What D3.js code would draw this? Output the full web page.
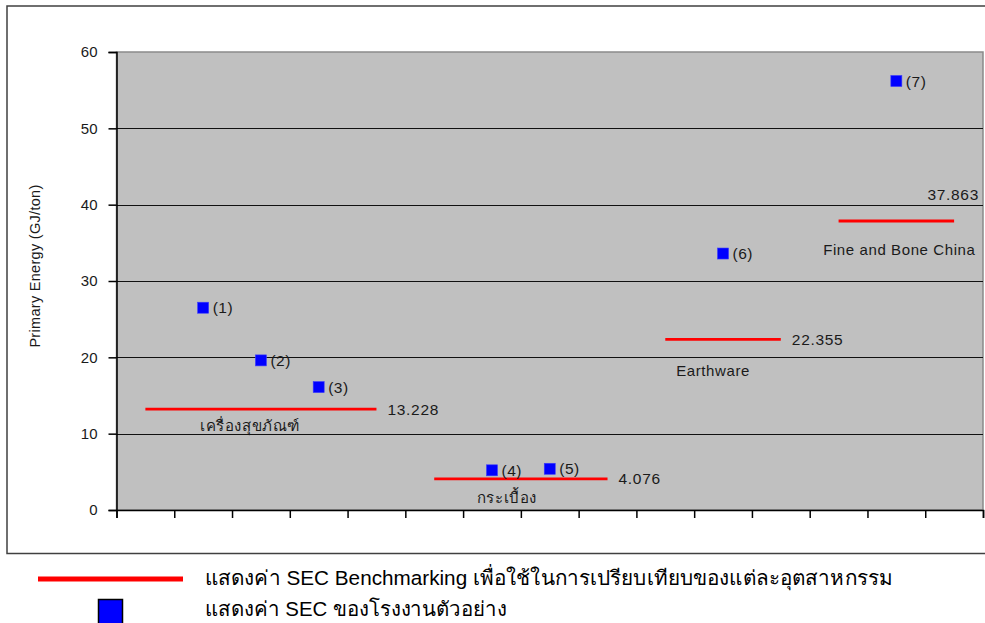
<!DOCTYPE html>
<html>
<head>
<meta charset="utf-8">
<script src="https://cdn.jsdelivr.net/npm/d3@7"></script>
<style>
  html, body { margin: 0; padding: 0; background: #ffffff; }
  svg { display: block; }
  text { font-family: "Liberation Sans", Arial, "Noto Sans", sans-serif; }
</style>
</head>
<body>
<svg id="chart" width="985" height="623"></svg>
<script>
// Benchmark SEC per industry (horizontal red segments)
const categories = ["เครื่องสุขภัณฑ์", "กระเบื้อง", "Earthware", "Fine and Bone China"];
const benchmarkValues = [13.228, 4.076, 22.355, 37.863];
const benchmarkStart = [0.5, 5.5, 9.5, 12.5];
const benchmarkEnd = [4.5, 8.5, 11.5, 14.5];

// SEC of the sample plants (blue squares)
const plantLabels = ["(1)", "(2)", "(3)", "(4)", "(5)", "(6)", "(7)"];
const plantX = [1.5, 2.5, 3.5, 6.5, 7.5, 10.5, 13.5];
const plantValues = [26.5, 19.6, 16.1, 5.2, 5.4, 33.6, 56.2];

// Axis ticks
const yTicks = [0, 10, 20, 30, 40, 50, 60];
const xTicks = d3.range(0, 16);
const yTitle = "Primary Energy (GJ/ton)";

const legendLabels = [
  "แสดงค่า SEC Benchmarking เพื่อใช้ในการเปรียบเทียบของแต่ละอุตสาหกรรม",
  "แสดงค่า SEC ของโรงงานตัวอย่าง"
];

const svg = d3.select("#chart");

// Plot frame
const plot = { left: 116.5, right: 983, top: 52, bottom: 510 };
const x = d3.scaleLinear().domain([0, 15]).range([plot.left, plot.right]);
const y = d3.scaleLinear().domain([0, 60]).range([plot.bottom, plot.top]);

const textColor = "#1a1a1a";

// Outer chart border
svg.append("rect")
  .attr("x", 7).attr("y", 6)
  .attr("width", 990).attr("height", 547.5)
  .attr("fill", "#ffffff")
  .attr("stroke", "#404040").attr("stroke-width", 1.5);

// Plot area background
svg.append("rect")
  .attr("x", plot.left).attr("y", plot.top)
  .attr("width", plot.right - plot.left).attr("height", plot.bottom - plot.top)
  .attr("fill", "#c0c0c0")
  .attr("stroke", "#8a8a8a").attr("stroke-width", 1.5);

// Horizontal gridlines
svg.append("g")
  .selectAll("line")
  .data(yTicks.filter(v => v > 0 && v < 60))
  .join("line")
  .attr("x1", plot.left).attr("x2", plot.right)
  .attr("y1", d => Math.round(y(d)) + 0.5).attr("y2", d => Math.round(y(d)) + 0.5)
  .attr("stroke", "#111").attr("stroke-width", 1.2);

// Y axis
const yAxis = d3.axisLeft(y).tickValues(yTicks).tickSize(8).tickPadding(11).tickFormat(d3.format("d"));
const gy = svg.append("g").attr("transform", `translate(${plot.left},0)`).call(yAxis);
gy.select(".domain").attr("stroke", "#000").attr("stroke-width", 1.5);
gy.selectAll(".tick line").attr("stroke", "#000").attr("stroke-width", 1.5);
gy.selectAll(".tick text")
  .attr("fill", textColor)
  .style("font-size", "15px")
  .style("font-family", "'Liberation Sans', Arial, sans-serif");

// X axis (ticks only)
const xAxis = d3.axisBottom(x).tickValues(xTicks).tickSize(8).tickFormat("");
const gx = svg.append("g").attr("transform", `translate(0,${plot.bottom})`).call(xAxis);
gx.select(".domain").attr("stroke", "#000").attr("stroke-width", 1.5);
gx.selectAll(".tick line").attr("stroke", "#000").attr("stroke-width", 1.5);

// Y axis title
svg.append("text")
  .attr("transform", "translate(40,266) rotate(-90)")
  .attr("text-anchor", "middle")
  .attr("fill", textColor)
  .style("font-size", "14.5px")
  .style("letter-spacing", "0.3px")
  .text(yTitle);

// Benchmark segments
const bench = categories.map((c, i) => ({
  name: c, value: benchmarkValues[i], x0: benchmarkStart[i], x1: benchmarkEnd[i]
}));

svg.append("g")
  .selectAll("line")
  .data(bench)
  .join("line")
  .attr("x1", d => x(d.x0)).attr("x2", d => x(d.x1))
  .attr("y1", d => y(d.value)).attr("y2", d => y(d.value))
  .attr("stroke", "#ff0000").attr("stroke-width", 2.8);

// Value labels: right of the segment, the last one sits above it at the plot edge
const valueAbove = [false, false, false, true];
svg.append("g")
  .selectAll("text")
  .data(bench)
  .join("text")
  .attr("x", (d, i) => valueAbove[i] ? plot.right - 4 : x(d.x1) + 11)
  .attr("y", (d, i) => valueAbove[i] ? y(d.value) - 27 : y(d.value))
  .attr("dy", "0.36em")
  .attr("text-anchor", (d, i) => valueAbove[i] ? "end" : "start")
  .attr("fill", textColor)
  .style("font-size", "15.5px")
  .style("letter-spacing", "0.7px")
  .text(d => d.value.toFixed(3));

// Category names beneath each segment
const nameDx = [-11, -14, -10, 3];
const nameDy = [22, 24, 37, 34];
svg.append("g")
  .selectAll("text")
  .data(bench)
  .join("text")
  .attr("x", (d, i) => x((d.x0 + d.x1) / 2) + nameDx[i])
  .attr("y", (d, i) => y(d.value) + nameDy[i])
  .attr("text-anchor", "middle")
  .attr("fill", textColor)
  .style("font-size", "15px")
  .style("letter-spacing", "0.6px")
  .text(d => d.name);

// Plant markers
const plants = plantLabels.map((l, i) => ({ label: l, x: plantX[i], value: plantValues[i] }));
const ms = 11;
svg.append("g")
  .selectAll("rect")
  .data(plants)
  .join("rect")
  .attr("x", d => x(d.x) - ms / 2).attr("y", d => y(d.value) - ms / 2)
  .attr("width", ms).attr("height", ms)
  .attr("fill", "#0000ff")
  .attr("stroke", "#3a3aff").attr("stroke-width", 0.6);

svg.append("g")
  .selectAll("text")
  .data(plants)
  .join("text")
  .attr("x", d => x(d.x) + ms / 2 + 4)
  .attr("y", d => y(d.value))
  .attr("dy", "0.36em")
  .attr("fill", textColor)
  .style("font-size", "15.5px")
  .style("letter-spacing", "0.5px")
  .text(d => d.label);

// Legend
const legend = svg.append("g");
legend.append("line")
  .attr("x1", 38).attr("x2", 183).attr("y1", 579).attr("y2", 579)
  .attr("stroke", "#ff0000").attr("stroke-width", 5);
legend.append("rect")
  .attr("x", 98.5).attr("y", 599.5).attr("width", 24).attr("height", 30)
  .attr("fill", "#0000ff").attr("stroke", "#000").attr("stroke-width", 1.5);
const legendWidths = [688, 302];
legend.selectAll("text.legend")
  .data(legendLabels)
  .join("text")
  .attr("class", "legend")
  .attr("x", 205)
  .attr("y", (d, i) => i === 0 ? 585 : 616)
  .attr("fill", "#000")
  .attr("textLength", (d, i) => legendWidths[i])
  .attr("lengthAdjust", "spacingAndGlyphs")
  .style("font-size", "20.5px")
  .text(d => d);
</script>
</body>
</html>
